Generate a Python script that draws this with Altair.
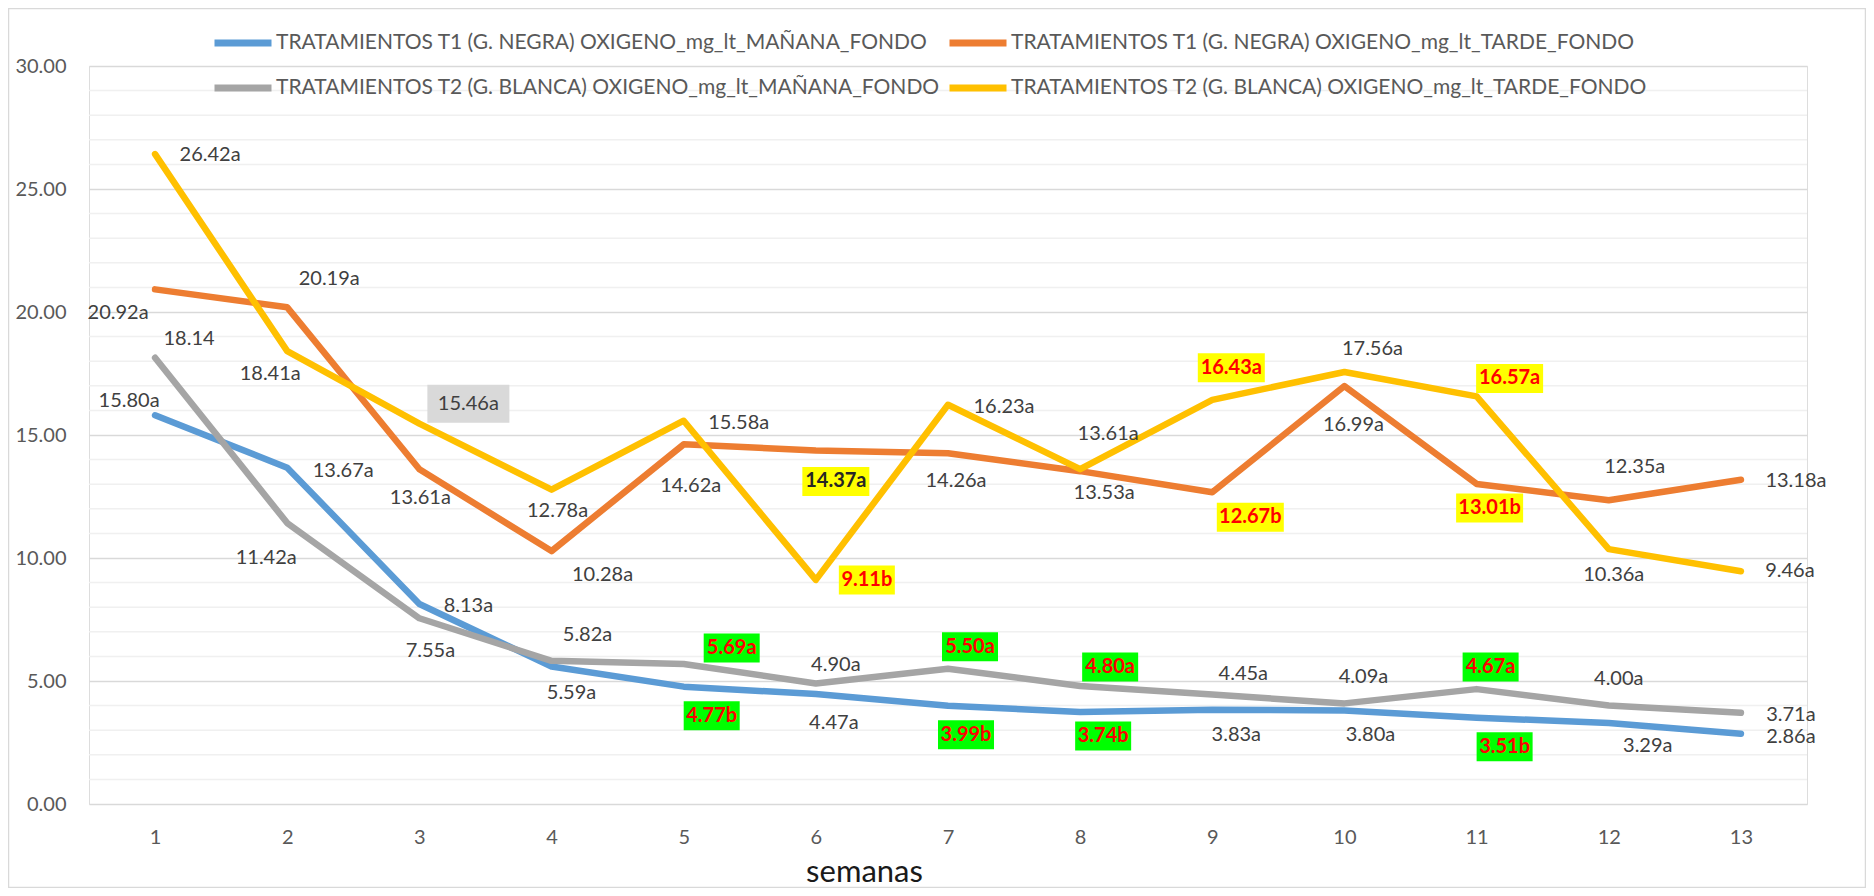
import altair as alt
import pandas as pd

# ---------------- data ----------------
weeks = list(range(1, 14))
series_names = [
    "TRATAMIENTOS T1 (G. NEGRA) OXIGENO_mg_lt_MAÑANA_FONDO",
    "TRATAMIENTOS T1 (G. NEGRA) OXIGENO_mg_lt_TARDE_FONDO",
    "TRATAMIENTOS T2 (G. BLANCA) OXIGENO_mg_lt_MAÑANA_FONDO",
    "TRATAMIENTOS T2 (G. BLANCA) OXIGENO_mg_lt_TARDE_FONDO",
]
series_colors = ["#5B9BD5", "#ED7D31", "#A5A5A5", "#FFC000"]

t1_manana = [15.80, 13.67, 8.13, 5.59, 4.77, 4.47, 3.99, 3.74, 3.83, 3.80, 3.51, 3.29, 2.86]
t1_tarde = [20.92, 20.19, 13.61, 10.28, 14.62, 14.37, 14.26, 13.53, 12.67, 16.99, 13.01, 12.35, 13.18]
t2_manana = [18.14, 11.42, 7.55, 5.82, 5.69, 4.90, 5.50, 4.80, 4.45, 4.09, 4.67, 4.00, 3.71]
t2_tarde = [26.42, 18.41, 15.46, 12.78, 15.58, 9.11, 16.23, 13.61, 16.43, 17.56, 16.57, 10.36, 9.46]

# significance letters
t1_manana_letters = ["a", "a", "a", "a", "b", "a", "b", "b", "a", "a", "b", "a", "a"]
t1_tarde_letters = ["a", "a", "a", "a", "a", "a", "a", "a", "b", "a", "b", "a", "a"]
t2_manana_letters = ["", "a", "a", "a", "a", "a", "a", "a", "a", "a", "a", "a", "a"]
t2_tarde_letters = ["a", "a", "a", "a", "a", "b", "a", "a", "a", "a", "a", "a", "a"]

# label highlight styles: "" plain, g = green/red, y = yellow/red, yk = yellow/dark, gr = grey box
t1_manana_hl = ["", "", "", "", "g", "", "g", "g", "", "", "g", "", ""]
t1_tarde_hl = ["", "", "", "", "", "yk", "", "", "y", "", "y", "", ""]
t2_manana_hl = ["", "", "", "", "g", "", "g", "g", "", "", "g", "", ""]
t2_tarde_hl = ["", "", "gr", "", "", "y", "", "", "y", "", "y", "", ""]

# label offsets from their point (pixels, right / down)
t1_manana_dx = [-26, 56, 49, 20, 28, 18, 18, 23, 24, 26, 28, 39, 50]
t1_manana_dy = [-14, 3, 2, 27, 29, 29, 29, 24, 25, 24, 29, 23, 3]
t1_tarde_dx = [-37, 42, 1, 51, 7, 20, 8, 24, 38, 9, 13, 26, 55]
t1_tarde_dy = [24, -28, 29, 24, 42, 31, 28, 22, 25, 39, 24, -33, 1]
t2_manana_dx = [34, -21, 11, 36, 48, 20, 22, 30, 31, 19, 14, 10, 50]
t2_manana_dy = [-19, 35, 33, -26, -16, -18, -22, -19, -21, -26, -22, -27, 2]
t2_tarde_dx = [55, -17, 49, 6, 55, 51, 56, 28, 19, 28, 33, 5, 49]
t2_tarde_dy = [1, 23, -20, 21, 2, 0, 2, -35, -32, -23, -18, 26, 0]

# ---------------- layout ----------------
W, H = 1718, 738
XMIN, XMAX = 0.5, 13.5
YMIN, YMAX = 0, 30
PX_X = W / (XMAX - XMIN)
PX_Y = H / (YMAX - YMIN)
FONT = "Lato"

series_values = [t1_manana, t1_tarde, t2_manana, t2_tarde]
series_letters = [t1_manana_letters, t1_tarde_letters, t2_manana_letters, t2_tarde_letters]
series_hl = [t1_manana_hl, t1_tarde_hl, t2_manana_hl, t2_tarde_hl]
series_dx = [t1_manana_dx, t1_tarde_dx, t2_manana_dx, t2_tarde_dx]
series_dy = [t1_manana_dy, t1_tarde_dy, t2_manana_dy, t2_tarde_dy]

line_rows = []
label_rows = []
bg_fill = {"g": "#00FF00", "y": "#FFFF00", "yk": "#FFFF00", "gr": "#D9D9D9"}
txt_fill = {"": "#404040", "gr": "#404040", "g": "#FF0000", "y": "#FF0000", "yk": "#262626"}
for name, vals, lets, hls, dxs, dys in zip(series_names, series_values, series_letters,
                                         series_hl, series_dx, series_dy):
    for w, v, l, h, dx, dy in zip(weeks, vals, lets, hls, dxs, dys):
        line_rows.append({"series": name, "week": w, "value": v})
        text = f"{v:.2f}{l}"
        if h == "gr":
            shape = "M-41,-19H41V19H-41Z"
        elif len(text) >= 6:
            shape = "M-33.5,-14.5H33.5V14.5H-33.5Z"
        else:
            shape = "M-28,-14.5H28V14.5H-28Z"
        label_rows.append({
            "series": name, "week": w, "value": v, "text": text,
            "lx": w + dx / PX_X, "ly": v - dy / PX_Y,
            "hl": h, "bold": h in ("g", "y", "yk"),
            "tcolor": txt_fill[h], "bg": bg_fill.get(h, ""), "shape": shape,
        })

lines_df = pd.DataFrame(line_rows)
labels_df = pd.DataFrame(label_rows)
minor_df = pd.DataFrame({"v": [v for v in range(1, 30) if v % 5]})
frame_df = pd.DataFrame({"k": [0]})

xscale = alt.Scale(domain=[XMIN, XMAX], nice=False, zero=False)
yscale = alt.Scale(domain=[YMIN, YMAX], nice=False)

x_axis = alt.Axis(values=weeks, format="d", grid=False, ticks=False, tickSize=0, domain=False,
                  labelFont=FONT, labelFontSize=20, labelColor="#595959", labelPadding=23,
                  title="semanas", titleFont=FONT, titleFontSize=31, titleFontWeight="normal",
                  titleColor="#1a1a1a", titleX=775, titleY=77, titleBaseline="alphabetic",
                  titleAnchor="start", titleAlign="center")
y_axis = alt.Axis(values=list(range(0, 31, 5)), format=".2f", grid=True, gridColor="#D9D9D9",
                  gridWidth=1.5, ticks=False, tickSize=0, domain=False, labelFont=FONT,
                  labelFontSize=20, labelColor="#595959", labelPadding=23, title=None)

legend = alt.Legend(orient="none", legendX=122, legendY=-44.5, columns=2, direction="horizontal",
                    title=None, symbolType="stroke", symbolSize=3249, symbolStrokeWidth=7,
                    labelFont=FONT, labelFontSize=21, labelColor="#595959", labelLimit=900,
                    labelOffset=1, columnPadding=6, rowPadding=2, clipHeight=43, padding=0)

frame = alt.Chart(frame_df).mark_rect(fill=None, stroke="#D9D9D9", strokeWidth=1.5).encode(
    x=alt.value(-80.5), x2=alt.value(W + 58.5), y=alt.value(-57.5), y2=alt.value(H + 83.5))

minor = alt.Chart(minor_df).mark_rule(color="#F0F0F0", strokeWidth=1.5).encode(
    y=alt.Y("v:Q", scale=yscale, axis=y_axis))

line_layers = []
for name in series_names:
    line_layers.append(
        alt.Chart(lines_df).transform_filter(alt.datum.series == name)
        .mark_line(strokeWidth=6.5, strokeCap="round", strokeJoin="round")
        .encode(
            x=alt.X("week:Q", scale=xscale, axis=x_axis),
            y=alt.Y("value:Q", scale=yscale, axis=y_axis),
            color=alt.Color("series:N", scale=alt.Scale(domain=series_names, range=series_colors),
                            legend=legend),
        )
    )

bgs = alt.Chart(labels_df).transform_filter(alt.datum.hl != "").mark_point(
    filled=True, size=4, opacity=1, strokeWidth=0).encode(
    x=alt.X("lx:Q", scale=xscale, axis=x_axis),
    y=alt.Y("ly:Q", scale=yscale, axis=y_axis),
    shape=alt.Shape("shape:N", scale=None),
    fill=alt.Fill("bg:N", scale=None),
)

txt_plain = alt.Chart(labels_df).transform_filter(alt.datum.bold == False).mark_text(
    font=FONT, fontSize=20, color="#404040", align="center", baseline="middle").encode(
    x=alt.X("lx:Q", scale=xscale, axis=x_axis),
    y=alt.Y("ly:Q", scale=yscale, axis=y_axis),
    text="text:N",
)

txt_bold = alt.Chart(labels_df).transform_filter(alt.datum.bold == True).mark_text(
    font=FONT, fontSize=20, fontWeight="bold", align="center", baseline="middle").encode(
    x=alt.X("lx:Q", scale=xscale, axis=x_axis),
    y=alt.Y("ly:Q", scale=yscale, axis=y_axis),
    text="text:N",
    fill=alt.Fill("tcolor:N", scale=None),
)

chart = alt.layer(frame, minor, *line_layers, bgs, txt_plain, txt_bold).properties(
    width=W, height=H,
    padding={"left": 81, "top": 58, "right": 59, "bottom": 84},
    autosize=alt.AutoSizeParams(type="none"),
).configure_view(stroke=None).configure(background="white")

chart.save("out.html", embed_options={"renderer": "svg", "actions": False})
